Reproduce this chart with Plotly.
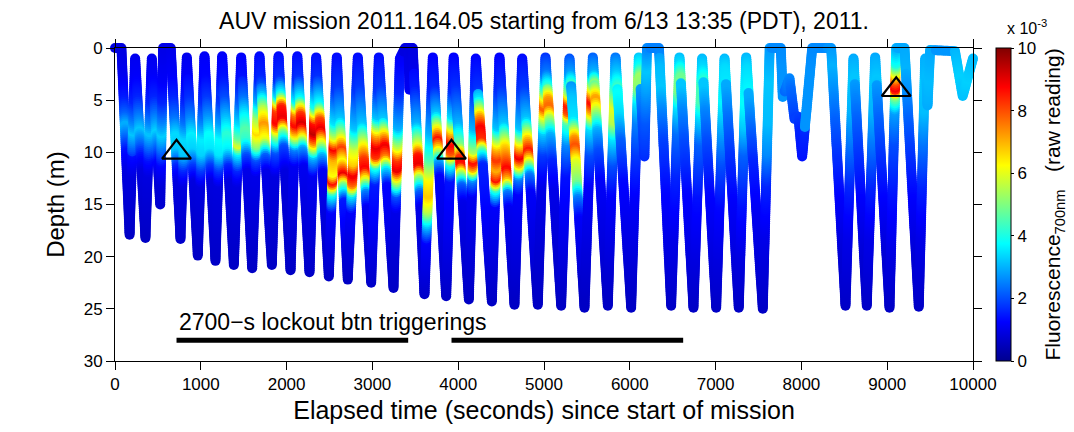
import numpy as np
import plotly.graph_objects as go

# ---------------- data ----------------
# AUV track turning points: elapsed time (s) and depth (m)
track_t = [0, 75, 170, 235, 355, 429, 527, 560, 650, 763, 837, 965, 1043, 1171, 1249, 1385,
           1471, 1599, 1684, 1828, 1906, 2046, 2125, 2267, 2345, 2492, 2585, 2713, 2830, 2986,
           3075, 3246, 3320, 3380, 3420, 3432, 3445, 3470, 3607, 3704, 3860, 3947, 4124, 4205,
           4392, 4481, 4656, 4746, 4928, 5017, 5200, 5297, 5472, 5569, 5744, 5833, 6016, 6105,
           6170, 6200, 6340, 6482, 6579, 6742, 6843, 7007, 7104, 7270, 7357, 7550, 7630, 7760,
           7783, 7861, 7920, 7965, 8009, 8126, 8230, 8347, 8514, 8607, 8762, 8860, 9027, 9105,
           9202, 9368, 9443, 9470, 9500, 9790, 9880, 10000]
track_d = [0, 0, 17.9, 1.0, 18.2, 1.0, 15.0, 0, 0, 18.3, 0.9, 19.9, 0.8, 20.4, 0.8, 20.8,
           0.9, 21.1, 0.8, 20.8, 0.8, 21.3, 0.8, 21.5, 0.9, 21.9, 0.9, 22.2, 0.9, 22.5,
           0.9, 23.0, 1.0, 0, 0, 4.0, 0, 0, 23.6, 0.9, 23.8, 0.9, 24.1, 1.0,
           24.3, 0.9, 24.6, 1.0, 24.6, 0.9, 24.7, 1.0, 24.9, 0.9, 24.7, 0.9, 24.9, 0.9,
           10.4, 0, 0, 24.7, 0.9, 24.9, 1.0, 24.9, 1.0, 24.9, 0.9, 25.0, 0, 0,
           4.7, 2.9, 6.8, 6.6, 10.4, 0, 0, 0, 24.7, 1.0, 24.7, 0.9, 24.9, 0,
           0, 24.8, 1.0, 5.5, 0.2, 0.3, 4.6, 1.0]

# Fluorescence readings (x 1e-3) read along the track: time key -> (depth, value) pairs
fluo_key_t = [100, 300, 500, 750, 950, 1150, 1320, 1430, 1540, 1650, 1760, 1870, 1980, 2085,
              2196, 2306, 2418, 2538, 2649, 2771, 2908, 3030, 3160, 3283, 3430, 3538, 3655,
              3782, 3903, 4035, 4164, 4298, 4436, 4568, 4701, 4837, 4972, 5108, 5248, 5384,
              5520, 5656, 5788, 5924, 6060, 6190, 6280, 6410, 6530, 6660, 6790, 6925, 7055,
              7187, 7313, 7453, 7590, 7700, 7900, 8180, 8430, 8560, 8685, 8810, 8945, 9065,
              9150, 9285, 9405, 9470, 9650, 9900]
fluo_depths = [
    [0, 3, 5, 6.5, 7.5, 8.5, 10, 12, 18],
    [0, 3, 5, 7, 8, 9, 10.5, 12, 18],
    [0, 3, 5, 7, 8.2, 9.5, 11, 13, 18],
    [0, 3, 5, 7, 8.5, 10, 11.5, 13, 20],
    [0, 3, 5, 7, 8.5, 10, 11.5, 13, 20],
    [0, 3, 5, 7, 8.5, 10, 11.5, 13, 21],
    [0, 3, 5, 7, 8.5, 10, 11.5, 13, 21],
    [0, 3, 5, 7, 8.5, 9.2, 10, 11.5, 13, 21],
    [0, 3, 5, 6.5, 8, 9, 10.5, 12, 21],
    [0, 3, 5, 6.5, 8, 9.3, 10.5, 12, 21],
    [0, 3, 4.5, 6, 7.5, 9, 10.5, 12, 21],
    [0, 3, 4.5, 5.8, 7, 8.3, 9.8, 12, 21],
    [0, 3, 4.5, 5.8, 7, 8.2, 9.6, 12, 21],
    [0, 3, 5, 6.2, 7.2, 8.2, 9.5, 11, 21],
    [0, 3, 5, 6.5, 7.5, 8.5, 9.8, 11.5, 22],
    [0, 3, 5.5, 7, 8, 9, 10.3, 12, 22],
    [0, 3, 5.5, 7, 8, 9, 10.5, 12, 22],
    [0, 4, 7, 8.5, 9.5, 10.5, 12, 12.8, 13.8, 15.5, 22],
    [0, 4, 7, 8.5, 9.8, 11, 12.3, 13.3, 14.8, 22],
    [0, 4, 7.5, 9.5, 11, 12, 13, 14, 15.5, 22],
    [0, 4, 7.5, 9.5, 10.8, 11.8, 12.8, 14, 15.5, 22],
    [0, 4, 6.5, 8.2, 9.3, 10.3, 11.3, 12.8, 23],
    [0, 4, 7, 8.5, 9.6, 10.6, 11.8, 13.3, 23],
    [0, 4, 7.5, 9.5, 10.5, 11.5, 12.5, 14, 15.5, 23],
    [0, 2, 5, 23],
    [0, 4, 7.5, 9.5, 10.5, 11.5, 12.5, 14, 15.5, 24],
    [0, 4, 8, 10.5, 12.5, 14, 15.5, 17, 18.5, 24],
    [0, 4, 6.5, 8, 8.9, 9.8, 11, 12.5, 24],
    [0, 4, 6.5, 8, 9, 10, 11, 12.5, 24],
    [0, 4, 7.5, 9.5, 10.6, 11.3, 12, 13.3, 15, 24],
    [0, 4, 7.5, 9.8, 10.8, 11.5, 12.5, 14, 24],
    [0, 3, 5, 6.8, 7.8, 9, 10, 11.3, 24],
    [0, 4, 7.5, 9.5, 10.5, 11.5, 12.5, 13.5, 15, 24],
    [0, 4, 7.5, 9.5, 10.5, 11.8, 12.8, 14, 15.5, 24],
    [0, 4, 7.5, 9.5, 10.3, 11.2, 12.3, 13.8, 24],
    [0, 4, 7, 9, 10, 11, 12.3, 14, 24],
    [0, 2.5, 4, 5, 5.6, 6.5, 8, 10, 13, 24],
    [0, 2.5, 4, 5, 5.8, 6.8, 8.5, 11, 14, 24],
    [0, 2.5, 4.3, 5.3, 6.1, 7, 9, 12, 24],
    [0, 3, 5, 7, 8.8, 9.6, 11, 13, 14.5, 16.5, 24],
    [0, 2.5, 4, 5, 6, 7.5, 10, 13, 24],
    [0, 2.5, 4, 5, 6.2, 8, 10, 13, 24],
    [0, 2.5, 4, 5.5, 7, 8.5, 11, 14, 24],
    [0, 2.5, 4.5, 6.5, 9, 13, 24],
    [0, 1.8, 2.8, 3.8, 5, 7, 10, 14, 24],
    [0, 2, 4, 7, 11],
    [0, 2, 5],
    [0, 2, 4, 6, 9, 14, 20, 25],
    [0, 1.5, 2.8, 4, 5.5, 8, 12, 18, 25],
    [0, 2, 4, 6, 9, 14, 20, 25],
    [0, 2, 3.5, 5, 6.5, 9, 14, 20, 25],
    [0, 2, 4, 6, 9, 14, 20, 25],
    [0, 2, 5, 8, 11, 15, 20, 25],
    [0, 2, 4, 7, 10, 15, 20, 25],
    [0, 2, 5, 7.5, 10, 15, 20, 25],
    [0, 2, 5, 8, 11, 16, 21, 25],
    [0, 3, 7, 10, 13, 18, 25],
    [0, 2],
    [0, 2, 4, 6, 8, 10.5],
    [0, 2],
    [0, 2, 4, 7, 10, 15, 20, 25],
    [0, 3, 6, 9, 13, 18, 25],
    [0, 2, 4, 7, 10, 15, 20, 25],
    [0, 3, 6, 9, 13, 18, 25],
    [0, 2, 4, 7, 10, 15, 20, 25],
    [0, 1.5, 2.4, 3.2, 3.9, 4.6, 6, 9, 14, 20, 25],
    [0, 2],
    [0, 2, 4, 7, 10, 15, 20, 25],
    [0, 3, 6, 9, 13, 18, 25],
    [0, 3, 6],
    [0, 1],
    [0, 3, 5],
]
fluo_values = [
    [0.9, 1.1, 1.5, 2.2, 3.0, 2.4, 1.4, 0.9, 0.6],
    [1.0, 1.2, 1.6, 2.6, 3.2, 2.5, 1.4, 0.9, 0.6],
    [1.0, 1.2, 1.6, 2.6, 3.3, 2.4, 1.3, 0.8, 0.6],
    [1.0, 1.2, 1.6, 2.4, 3.4, 3.2, 1.6, 0.9, 0.6],
    [1.1, 1.3, 1.7, 2.6, 3.6, 3.3, 1.8, 0.9, 0.6],
    [1.1, 1.3, 1.8, 2.8, 3.8, 3.5, 1.8, 0.9, 0.6],
    [1.1, 1.4, 2.0, 3.2, 4.2, 3.6, 1.6, 0.9, 0.6],
    [1.1, 1.4, 2.2, 3.4, 4.8, 6.0, 3.6, 1.6, 0.9, 0.6],
    [1.1, 1.5, 2.4, 3.6, 4.6, 4.2, 2.0, 1.0, 0.6],
    [1.2, 1.6, 3.0, 5.3, 6.6, 5.0, 2.0, 1.0, 0.6],
    [1.2, 1.6, 3.0, 5.6, 7.3, 6.0, 2.2, 1.0, 0.6],
    [1.2, 1.7, 3.5, 8.2, 8.8, 5.0, 2.0, 0.9, 0.6],
    [1.2, 1.7, 3.8, 8.5, 9.0, 5.0, 2.0, 0.9, 0.6],
    [1.2, 1.7, 3.8, 7.6, 8.8, 6.5, 2.5, 1.1, 0.6],
    [1.2, 1.7, 3.8, 8.2, 9.2, 6.8, 2.8, 1.1, 0.6],
    [1.2, 1.7, 4.0, 8.6, 9.4, 7.2, 3.0, 1.1, 0.6],
    [1.2, 1.7, 3.8, 8.0, 9.0, 6.6, 3.0, 1.1, 0.6],
    [1.2, 1.8, 3.5, 6.0, 8.8, 7.0, 6.2, 8.8, 4.0, 1.2, 0.6],
    [1.2, 1.8, 3.2, 5.5, 8.2, 6.2, 9.0, 5.0, 1.5, 0.6],
    [1.2, 1.8, 3.2, 5.8, 6.8, 9.0, 7.6, 3.5, 1.2, 0.6],
    [1.2, 1.8, 3.2, 6.2, 8.2, 8.8, 6.0, 2.5, 1.1, 0.6],
    [1.2, 1.8, 3.2, 7.2, 9.0, 8.2, 4.0, 1.5, 0.6],
    [1.2, 1.8, 3.2, 6.8, 9.0, 7.6, 3.5, 1.3, 0.6],
    [1.1, 1.6, 3.0, 6.0, 8.2, 9.0, 6.0, 2.0, 1.0, 0.6],
    [0.9, 1.0, 1.2, 0.6],
    [1.0, 1.5, 3.0, 6.0, 8.6, 9.0, 5.5, 2.2, 1.0, 0.6],
    [1.1, 1.6, 3.0, 4.5, 6.3, 6.8, 5.5, 3.0, 1.2, 0.6],
    [1.1, 1.6, 3.2, 6.5, 8.6, 6.5, 3.0, 1.2, 0.6],
    [1.1, 1.7, 3.5, 7.0, 8.8, 7.8, 4.0, 1.4, 0.6],
    [1.1, 1.7, 3.0, 5.0, 8.3, 8.8, 6.0, 2.2, 1.0, 0.6],
    [1.1, 1.7, 3.0, 5.5, 8.8, 7.0, 2.5, 1.1, 0.6],
    [1.1, 1.7, 3.5, 7.3, 8.8, 8.3, 4.5, 1.6, 0.6],
    [1.1, 1.7, 3.2, 7.0, 8.3, 7.0, 8.6, 4.0, 1.2, 0.6],
    [1.1, 1.7, 3.2, 6.5, 7.5, 8.8, 7.0, 2.5, 1.1, 0.6],
    [1.2, 1.8, 3.2, 7.3, 9.0, 6.5, 2.5, 1.2, 0.6],
    [1.2, 1.8, 3.2, 7.0, 8.6, 6.0, 2.5, 1.2, 0.6],
    [1.4, 2.4, 4.5, 6.8, 8.0, 6.0, 3.2, 1.8, 1.0, 0.6],
    [1.4, 2.6, 5.0, 7.2, 7.8, 5.5, 3.0, 1.6, 1.0, 0.6],
    [1.6, 2.8, 5.5, 8.6, 8.0, 4.5, 2.6, 1.4, 0.6],
    [1.6, 2.5, 3.2, 3.5, 7.3, 8.0, 6.0, 5.0, 2.5, 1.2, 0.6],
    [1.8, 3.0, 6.5, 8.8, 7.0, 3.5, 2.0, 1.2, 0.6],
    [1.8, 3.0, 5.5, 7.3, 5.5, 3.0, 2.0, 1.2, 0.6],
    [2.0, 3.2, 4.5, 6.0, 5.5, 3.5, 2.0, 1.2, 0.6],
    [2.2, 3.3, 3.8, 3.4, 2.2, 1.3, 0.6],
    [2.7, 3.8, 5.3, 5.1, 3.6, 2.5, 1.8, 1.2, 0.6],
    [2.6, 3.2, 2.8, 2.1, 1.6],
    [2.5, 2.7, 2.4],
    [2.6, 3.1, 3.2, 2.6, 1.9, 1.3, 0.9, 0.6],
    [2.8, 3.4, 4.8, 5.0, 3.5, 2.3, 1.6, 1.0, 0.6],
    [2.7, 3.2, 3.2, 2.6, 2.0, 1.3, 0.9, 0.6],
    [2.8, 3.4, 4.4, 4.5, 3.4, 2.2, 1.4, 0.9, 0.6],
    [2.7, 3.2, 3.2, 2.6, 2.0, 1.3, 0.9, 0.6],
    [2.8, 3.4, 3.7, 2.8, 2.0, 1.3, 0.9, 0.6],
    [2.6, 3.0, 2.9, 2.3, 1.8, 1.2, 0.9, 0.6],
    [2.8, 3.4, 3.8, 3.2, 2.2, 1.4, 0.9, 0.6],
    [2.6, 3.1, 2.9, 2.2, 1.6, 1.1, 0.8, 0.6],
    [2.8, 3.2, 3.1, 2.6, 1.6, 1.0, 0.6],
    [2.6, 2.7],
    [2.6, 2.8, 2.3, 2.0, 1.6, 1.4],
    [2.6, 2.7],
    [2.7, 3.0, 2.7, 2.2, 1.8, 1.2, 0.8, 0.6],
    [2.8, 3.2, 3.0, 2.4, 1.6, 1.0, 0.6],
    [2.7, 3.0, 2.7, 2.2, 1.8, 1.2, 0.8, 0.6],
    [2.8, 3.2, 3.0, 2.4, 1.6, 1.0, 0.6],
    [2.7, 3.0, 2.7, 2.2, 1.8, 1.2, 0.8, 0.6],
    [3.0, 4.0, 6.0, 8.0, 9.0, 5.0, 2.8, 2.0, 1.4, 0.9, 0.6],
    [2.9, 3.0],
    [2.7, 3.0, 2.7, 2.2, 1.8, 1.2, 0.8, 0.6],
    [2.8, 3.2, 3.1, 2.4, 1.6, 1.0, 0.6],
    [2.9, 3.1, 2.9],
    [2.7, 2.8],
    [3.0, 3.3, 3.1],
]

# lockout-button trigger events and 2700-s lockout periods
trigger_t = [717, 3922, 9105]
trigger_d = [10, 10, 4]
lockout_start = [717, 3922]
lockout_end = [3417, 6622]
lockout_depth = 28

x_ticks = [0, 1000, 2000, 3000, 4000, 5000, 6000, 7000, 8000, 9000, 10000]
y_ticks = [0, 5, 10, 15, 20, 25, 30]
cbar_ticks = [0, 2, 4, 6, 8, 10]

# ---------------- build the track samples ----------------
xs, ys = [], []
for i in range(len(track_t) - 1):
    t0, t1 = track_t[i], track_t[i + 1]
    d0, d1 = track_d[i], track_d[i + 1]
    dist = np.hypot((t1 - t0) * 0.0858, (d1 - d0) * 10.45)
    n = max(2, int(np.ceil(dist / 2.0)))
    f = np.arange(n) / n
    xs.append(t0 + (t1 - t0) * f)
    ys.append(d0 + (d1 - d0) * f)
xs.append(np.array([track_t[-1]]))
ys.append(np.array([track_d[-1]]))
xs = np.concatenate(xs)
ys = np.concatenate(ys)

keys = np.array(fluo_key_t)
idx = np.abs(xs[:, None] - keys[None, :]).argmin(axis=1)
cs = np.array([np.interp(d, fluo_depths[k], fluo_values[k]) for d, k in zip(ys, idx)]) * 1e-3

jet = [[0, 'rgb(0,0,143)'], [0.125, 'rgb(0,0,255)'], [0.375, 'rgb(0,255,255)'],
       [0.625, 'rgb(255,255,0)'], [0.875, 'rgb(255,0,0)'], [1, 'rgb(128,0,0)']]

FONT = "Liberation Sans, Arial, Helvetica, sans-serif"

fig = go.Figure()
fig.add_trace(go.Scatter(
    x=xs, y=ys, mode='markers', cliponaxis=False, hoverinfo='skip', showlegend=False,
    marker=dict(size=10, color=cs, colorscale=jet, cmin=0, cmax=0.01, line=dict(width=0),
                showscale=True,
                colorbar=dict(x=1.0265, xanchor='left', y=0.5, yanchor='middle', len=1,
                              lenmode='fraction', thickness=15, xpad=0, ypad=0,
                              outlinewidth=1, outlinecolor='black',
                              tickvals=[v * 1e-3 for v in cbar_ticks],
                              ticktext=[str(v) for v in cbar_ticks],
                              ticks='outside', ticklen=3, tickcolor='black',
                              tickfont=dict(family=FONT, size=17, color='black')))))

for s, e in zip(lockout_start, lockout_end):
    fig.add_trace(go.Scatter(x=[s, e], y=[lockout_depth, lockout_depth], mode='lines',
                             line=dict(color='black', width=5), showlegend=False,
                             hoverinfo='skip'))

fig.add_trace(go.Scatter(x=trigger_t, y=trigger_d, mode='markers', showlegend=False,
                         hoverinfo='skip',
                         marker=dict(symbol='triangle-up-open', size=25, color='black',
                                     line=dict(width=2.2, color='black'))))

fig.add_annotation(x=lockout_start[0], y=26.3, xref='x', yref='y', xanchor='left',
                   yanchor='middle', showarrow=False, text='2700\u2212s lockout btn triggerings',
                   font=dict(family=FONT, size=23, color='black'))
fig.add_annotation(x=1.037, y=1.068, xref='paper', yref='paper', xanchor='left',
                   yanchor='middle', showarrow=False, text='x 10<sup>-3</sup>',
                   font=dict(family=FONT, size=16, color='black'))
fig.add_annotation(x=1.0944, y=0.5, xref='paper', yref='paper', xanchor='center',
                   yanchor='middle', showarrow=False, textangle=-90,
                   text='Fluorescence<sub>700nm</sub>   (raw reading)',
                   font=dict(family=FONT, size=21, color='black'))

axis_common = dict(showline=True, linecolor='black', linewidth=1, mirror='ticks',
                   ticks='outside', ticklen=8, tickcolor='black', showgrid=False,
                   zeroline=False, tickfont=dict(family=FONT, size=17, color='black'))
fig.update_xaxes(range=[0, 10000], tickvals=x_ticks, ticktext=[str(v) for v in x_ticks],
                 title=dict(text='Elapsed time (seconds) since start of mission',
                            font=dict(family=FONT, size=25, color='black'), standoff=8),
                 **axis_common)
fig.update_yaxes(range=[30, 0], tickvals=y_ticks, ticktext=[str(v) for v in y_ticks],
                 title=dict(text='Depth (m)', font=dict(family=FONT, size=24, color='black'),
                            standoff=12),
                 **axis_common)

# page body has an 8 px margin, so the figure is 8 px smaller than the window
fig.update_layout(
    width=1066, height=424,
    margin=dict(l=107, r=101, t=40, b=71, autoexpand=False),
    paper_bgcolor='white', plot_bgcolor='white',
    font=dict(family=FONT, color='black'),
    title=dict(text='AUV mission 2011.164.05 starting from 6/13 13:35 (PDT), 2011.',
               x=0.5, xref='paper', xanchor='center', y=1 - 13 / 424, yanchor='middle',
               font=dict(family=FONT, size=23, color='black')),
)

fig.write_html("out.html")
